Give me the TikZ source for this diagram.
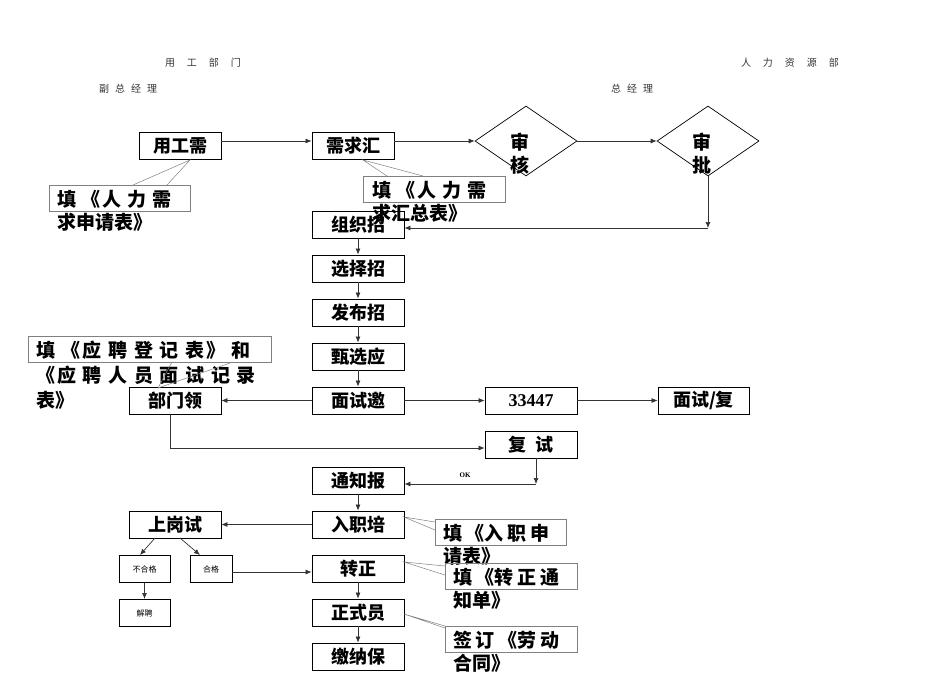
\documentclass[tikz,border=0pt]{standalone}
\usepackage{fontspec}
\newfontfamily\cjk{Noto Sans CJK SC}
\usetikzlibrary{shapes.geometric,arrows.meta}
\begin{document}
\begin{tikzpicture}[x=1pt,y=-1pt,
  bx/.style={draw,line width=0.8pt,inner sep=0pt,font=\cjk\fontsize{18}{20}\selectfont\bfseries},
  sm/.style={draw,line width=0.8pt,inner sep=0pt,font=\cjk\fontsize{8}{9}\selectfont},
  co/.style={draw=gray,line width=0.6pt},
  ct/.style={font=\cjk\fontsize{19}{23}\selectfont\bfseries,anchor=north west,align=left,inner sep=0pt},
  hd/.style={font=\cjk\fontsize{10}{12}\selectfont,text=black!80},
  ar/.style={-{Latex[length=6pt,width=5pt]},line width=0.7pt,draw=black!80},
  ln/.style={co,line width=0.5pt}]
\useasboundingbox (0,0) rectangle (950,672);
\newcommand\bxat[6]{\node[bx,minimum width=#4-#2,minimum height=#5-#3] (#1) at ({(#2+#4)/2},{(#3+#5)/2}) {#6};}
\newcommand\smat[6]{\node[sm,minimum width=#4-#2,minimum height=#5-#3,anchor=north,text height=8pt] (#1) at ({(#2+#4)/2},#3) {#6};}
% headers
\node[hd] (h1) at (203,63) {用\hspace{1.2em}工\hspace{1.2em}部\hspace{1.2em}门};
\node[hd] (h2) at (790,63) {人\hspace{1.2em}力\hspace{1.2em}资\hspace{1.2em}源\hspace{1.2em}部};
\node[hd] (h3) at (128,89) {副\hspace{0.6em}总\hspace{0.6em}经\hspace{0.6em}理};
\node[hd] (h4) at (632,89) {总\hspace{0.6em}经\hspace{0.6em}理};
% boxes
\bxat{a}{139}{132}{221}{159}{用工需}
\bxat{b}{312}{132}{394}{159}{需求汇}
\node[draw,diamond,aspect=1.45,minimum width=102pt,minimum height=70pt,inner sep=0pt,line width=0.7pt] (c) at (526,141) {};
\node[font=\cjk\fontsize{19}{23}\selectfont\bfseries,align=center] (ct) at (520,154) {审\\核};
\node[draw,diamond,aspect=1.45,minimum width=102pt,minimum height=70pt,inner sep=0pt,line width=0.7pt] (d) at (708,141) {};
\node[font=\cjk\fontsize{19}{23}\selectfont\bfseries,align=center] (dt) at (702,154) {审\\批};
\bxat{e}{312}{211}{404}{238}{组织招}
\bxat{f}{312}{255}{404}{282}{选择招}
\bxat{g}{312}{299}{404}{326}{发布招}
\bxat{h}{312}{343}{404}{370}{甄选应}
\bxat{i}{312}{387}{404}{414}{面试邀}
\bxat{j}{129}{387}{221}{414}{部门领}
\node[bx,minimum width=92pt,minimum height=27pt,font=\fontspec{Liberation Serif}\fontsize{18}{20}\selectfont\bfseries] (k) at (531,400.5) {33447};
\bxat{l}{658}{387}{749}{414}{面试/复}
\bxat{m}{485}{431}{577}{458}{复\hspace{0.5em}试}
\bxat{n}{312}{467}{404}{494}{通知报}
\bxat{o}{312}{511}{404}{538}{入职培}
\bxat{p}{129}{511}{221}{538}{上岗试}
\bxat{q}{312}{555}{404}{582}{转正}
\bxat{r}{312}{599}{404}{626}{正式员}
\bxat{s}{312}{643}{404}{670}{缴纳保}
\smat{t}{119}{555}{170}{582}{不合格}
\smat{u}{190}{555}{232}{582}{合格}
\smat{v}{119}{599}{170}{626}{解聘}
% callouts
\draw[co] (49,185) rectangle (190,211); \node[ct] (c1) at (57,190) {填\hspace{0.3em}《\hspace{0.1em}人\hspace{0.3em}力\hspace{0.3em}需\\求申请表》};
\draw[ln] (133,185) -- (190,160) -- (167,185);
\draw[co] (363,176) rectangle (505,202); \node[ct] (c2) at (372,181) {填\hspace{0.3em}《\hspace{0.1em}人\hspace{0.3em}力\hspace{0.3em}需\\求汇总表》};
\draw[ln] (387,176) -- (363,160) -- (423,176);
\draw[co] (28,336) rectangle (271,362); \node[ct,font=\cjk\fontsize{19}{25}\selectfont\bfseries] (c3) at (36,341) {填\hspace{0.35em}《\hspace{0.1em}应\hspace{0.35em}聘\hspace{0.35em}登\hspace{0.35em}记\hspace{0.35em}表\hspace{0.1em}》\hspace{0.35em}和\\《\hspace{0.1em}应\hspace{0.35em}聘\hspace{0.35em}人\hspace{0.35em}员\hspace{0.35em}面\hspace{0.35em}试\hspace{0.35em}记\hspace{0.35em}录\\表》};
\draw[ln] (172,362) -- (158,388) -- (233,362);
\draw[co] (435,519) rectangle (566,545); \node[ct] (c4) at (443,524) {填\hspace{0.2em}《入\hspace{0.2em}职\hspace{0.2em}申\\请表》};
\draw[ln] (435,522) -- (404,517) -- (435,530);
\draw[co] (445,563) rectangle (577,589); \node[ct] (c5) at (453,568) {填\hspace{0.2em}《转\hspace{0.2em}正\hspace{0.2em}通\\知单》};
\draw[ln] (445,566) -- (404,562) -- (445,575);
\draw[co] (445,626) rectangle (577,652); \node[ct] (c6) at (453,631) {签\hspace{0.2em}订\hspace{0.2em}《劳\hspace{0.2em}动\\合同》};
\draw[ln] (445,628) -- (404,614) -- (445,626);
% arrows
\draw[ar] (a.east |- 0,141) -- (b.west |- 0,141);
\draw[ar] (b.east |- 0,141) -- (c.west);
\draw[ar] (c.east) -- (d.west);
\draw[ar] (d.south) -- (708,228);
\draw[ar] (708,228) -- (e.east |- 0,228);
\draw[ar] (e) -- (f);
\draw[ar] (f) -- (g);
\draw[ar] (g) -- (h);
\draw[ar] (h) -- (i);
\draw[ar] (i) -- (j);
\draw[ar] (i) -- (k);
\draw[ar] (k) -- (l);
\draw[ar] (j.south -| 170,0) -- (170,448) -- (m.west |- 0,448);
\draw[ar] (m.south -| 536,0) -- (536,484);
\draw[ar] (536,484) -- (n.east |- 0,484);
\node[font=\fontspec{Liberation Serif}\fontsize{7}{8}\selectfont\bfseries] (ok) at (465,475) {OK};
\draw[ar] (n) -- (o);
\draw[ar] (o) -- (p);
\draw[ar] (155,538) -- (140,555);
\draw[ar] (180,538) -- (200,555);
\draw[ar] (t) -- (v);
\draw[ar] (u.east |- 0,572) -- (q.west |- 0,572);
\draw[ar] (q) -- (r);
\draw[ar] (r) -- (s);
\end{tikzpicture}
\end{document}
